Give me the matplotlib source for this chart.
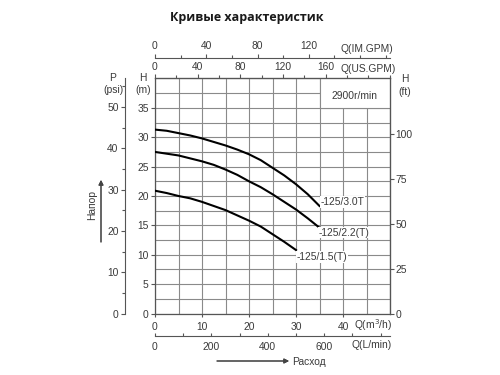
import matplotlib
matplotlib.use("Agg")
import matplotlib.pyplot as plt
from matplotlib.patches import Rectangle
from matplotlib.ticker import MultipleLocator

# Pump performance curves, 2900 r/min
flow_m3h = [0, 2.5, 5, 7.5, 10, 12.5, 15, 17.5, 20, 22.5, 25, 27.5, 30, 32.5, 35]
head_30T = [31.3, 31.1, 30.7, 30.3, 29.8, 29.2, 28.6, 27.9, 27.1, 26.1, 24.8, 23.5, 22.0, 20.3, 18.3]
head_22T = [27.5, 27.2, 26.9, 26.4, 25.9, 25.3, 24.5, 23.6, 22.5, 21.5, 20.3, 19.0, 17.7, 16.2, 14.6]
flow_15T = [0, 2.5, 5, 7.5, 10, 12.5, 15, 17.5, 20, 22.5, 25, 27.5, 30]
head_15T = [20.9, 20.5, 20.0, 19.6, 19.0, 18.3, 17.6, 16.7, 15.8, 14.8, 13.5, 12.2, 10.8]

curve_names = ["-125/3.0T", "-125/2.2(T)", "-125/1.5(T)"]
speed_text = "2900r/min"

# unit conversions
M_TO_PSI = 1.4223
M_TO_FT = 3.2808
M3H_TO_USGPM = 4.4029
M3H_TO_IMGPM = 3.6662
M3H_TO_LMIN = 16.667

TXT = "#3a3a3a"
AXC = "#555555"
GRID = "#8a8a8a"
FS = 7.4

plt.rcParams["font.family"] = ["Liberation Sans", "DejaVu Sans"]

fig = plt.figure(figsize=(5, 3.75), dpi=100)
ax = fig.add_axes([0.31, 0.164, 0.47, 0.6267])
ax.set_xlim(0, 50)
ax.set_ylim(0, 40)

for sp in ax.spines.values():
    sp.set_color(AXC)
    sp.set_linewidth(0.9)

# grid
ax.xaxis.set_major_locator(MultipleLocator(10))
ax.xaxis.set_minor_locator(MultipleLocator(5))
ax.yaxis.set_major_locator(MultipleLocator(5))
ax.yaxis.set_minor_locator(MultipleLocator(2.5))
ax.grid(which="both", color=GRID, lw=0.8, zorder=0)
ax.set_axisbelow(True)
ax.set_yticks(range(0, 40, 5))
ax.tick_params(axis="y", which="major", direction="out", length=3, width=0.8,
               color=AXC, labelsize=FS, labelcolor=TXT, pad=1.5)
ax.tick_params(axis="y", which="minor", length=0)
ax.tick_params(axis="x", which="major", direction="out", length=2, width=0.8,
               color=AXC, labelsize=FS, labelcolor=TXT, pad=4)
ax.tick_params(axis="x", which="minor", length=0)
ax.set_xticks([0, 10, 20, 30, 40])

# curves
ax.plot(flow_m3h, head_30T, color="black", lw=1.5, zorder=3)
ax.plot(flow_m3h, head_22T, color="black", lw=1.5, zorder=3)
ax.plot(flow_15T, head_15T, color="black", lw=1.5, zorder=3)

lbl_box = dict(facecolor="white", edgecolor="none", pad=0.5)
ax.annotate(curve_names[0], (flow_m3h[-1], head_30T[-1]), xytext=(1, 3),
            textcoords="offset points", ha="left", va="center", fontsize=FS,
            color=TXT, bbox=lbl_box, zorder=4)
ax.annotate(curve_names[1], (flow_m3h[-1], head_22T[-1]), xytext=(-0.5, -3.5),
            textcoords="offset points", ha="left", va="center", fontsize=FS,
            color=TXT, bbox=lbl_box, zorder=4)
ax.annotate(curve_names[2], (flow_15T[-1], head_15T[-1]), xytext=(0.5, -5),
            textcoords="offset points", ha="left", va="center", fontsize=FS,
            color=TXT, bbox=lbl_box, zorder=4)

# speed box in top right corner
ax.add_patch(Rectangle((35, 35), 15, 5, facecolor="white", edgecolor=GRID,
                       lw=0.8, zorder=2))
ax.text(42.5, 37.0, speed_text, ha="center", va="center", fontsize=FS,
        color=TXT, zorder=3)

# top: US GPM
ax_us = ax.secondary_xaxis("top", functions=(lambda q: q * M3H_TO_USGPM,
                                             lambda g: g / M3H_TO_USGPM))
ax_us.set_xticks([0, 40, 80, 120, 160])
ax_us.xaxis.set_minor_locator(MultipleLocator(20))
ax_us.tick_params(which="major", length=3, width=0.8, color=AXC,
                  labelsize=FS, labelcolor=TXT, pad=2)
ax_us.tick_params(which="minor", length=2, width=0.8, color=AXC)
ax_us.spines["top"].set_color(AXC)

# top: IM GPM
ax_im = ax.secondary_xaxis(1.089, functions=(lambda q: q * M3H_TO_IMGPM,
                                             lambda g: g / M3H_TO_IMGPM))
ax_im.set_xticks([0, 40, 80, 120])
ax_im.xaxis.set_minor_locator(MultipleLocator(20))
ax_im.tick_params(which="major", length=3, width=0.8, color=AXC,
                  labelsize=FS, labelcolor=TXT, pad=2)
ax_im.tick_params(which="minor", length=2.5, width=0.8, color=AXC)
ax_im.spines["top"].set_color(AXC)
ax_im.spines["top"].set_linewidth(0.8)

# bottom: L/min
ax_l = ax.secondary_xaxis(-0.096, functions=(lambda q: q * M3H_TO_LMIN,
                                             lambda v: v / M3H_TO_LMIN))
ax_l.set_xticks([0, 200, 400, 600])
ax_l.xaxis.set_minor_locator(MultipleLocator(100))
ax_l.tick_params(which="both", direction="in", length=2.5, width=0.8,
                 color=AXC, labelsize=FS, labelcolor=TXT, pad=4)
ax_l.spines["bottom"].set_color(AXC)
ax_l.spines["bottom"].set_linewidth(0.8)

# left: psi
ax_p = ax.secondary_yaxis(-0.128, functions=(lambda h: h * M_TO_PSI,
                                             lambda p: p / M_TO_PSI))
ax_p.set_yticks([0, 10, 20, 30, 40, 50])
ax_p.yaxis.set_minor_locator(MultipleLocator(5))
ax_p.tick_params(which="major", length=3, width=0.8, color=AXC,
                 labelsize=FS, labelcolor=TXT, pad=1.5)
ax_p.tick_params(which="minor", length=2, width=0.8, color=AXC)
ax_p.spines["left"].set_color(AXC)
ax_p.spines["left"].set_linewidth(0.8)

# right: ft
ax_ft = ax.secondary_yaxis("right", functions=(lambda h: h * M_TO_FT,
                                               lambda f: f / M_TO_FT))
ax_ft.set_yticks([0, 25, 50, 75, 100])
ax_ft.tick_params(length=3, width=0.8, color=AXC, labelsize=FS,
                  labelcolor=TXT, pad=1)
ax_ft.spines["right"].set_color(AXC)

# axis names
def put(x, y, s, **kw):
    fig.text(x / 500, 1 - y / 375, s, fontsize=FS, color=TXT,
             ha="center", va="center", **kw)

put(368, 69, "Q(US.GPM)")
put(367, 49, "Q(IM.GPM)")
put(373, 325, "Q(m$^3$/h)")
put(372, 345, "Q(L/min)")
put(143, 78, "H")
put(143, 90, "(m)")
put(113, 78, "P")
put(113, 90, "(psi)")
put(405, 79, "H")
put(405, 92, "(ft)")
put(92, 205, "Напор", rotation=90)
fig.text(292 / 500, 1 - 362 / 375, "Расход", fontsize=FS, color=TXT,
         ha="left", va="center")

arrow = dict(arrowstyle="-|>", lw=0.8, color="#444444", mutation_scale=7,
             shrinkA=0, shrinkB=0)
fig.add_artist(plt.annotate("", xy=(101 / 500, 1 - 180 / 375),
                            xytext=(101 / 500, 1 - 242 / 375),
                            xycoords="figure fraction", arrowprops=arrow))
fig.add_artist(plt.annotate("", xy=(289 / 500, 1 - 361 / 375),
                            xytext=(217 / 500, 1 - 361 / 375),
                            xycoords="figure fraction", arrowprops=arrow))

fig.text(0.494, 1 - 17 / 375, "Кривые характеристик", fontsize=9,
         fontweight="bold", family=["Open Sans", "DejaVu Sans"],
         color="#1a1a1a", ha="center", va="center")

fig.savefig("out.png", dpi=100, facecolor="white")
